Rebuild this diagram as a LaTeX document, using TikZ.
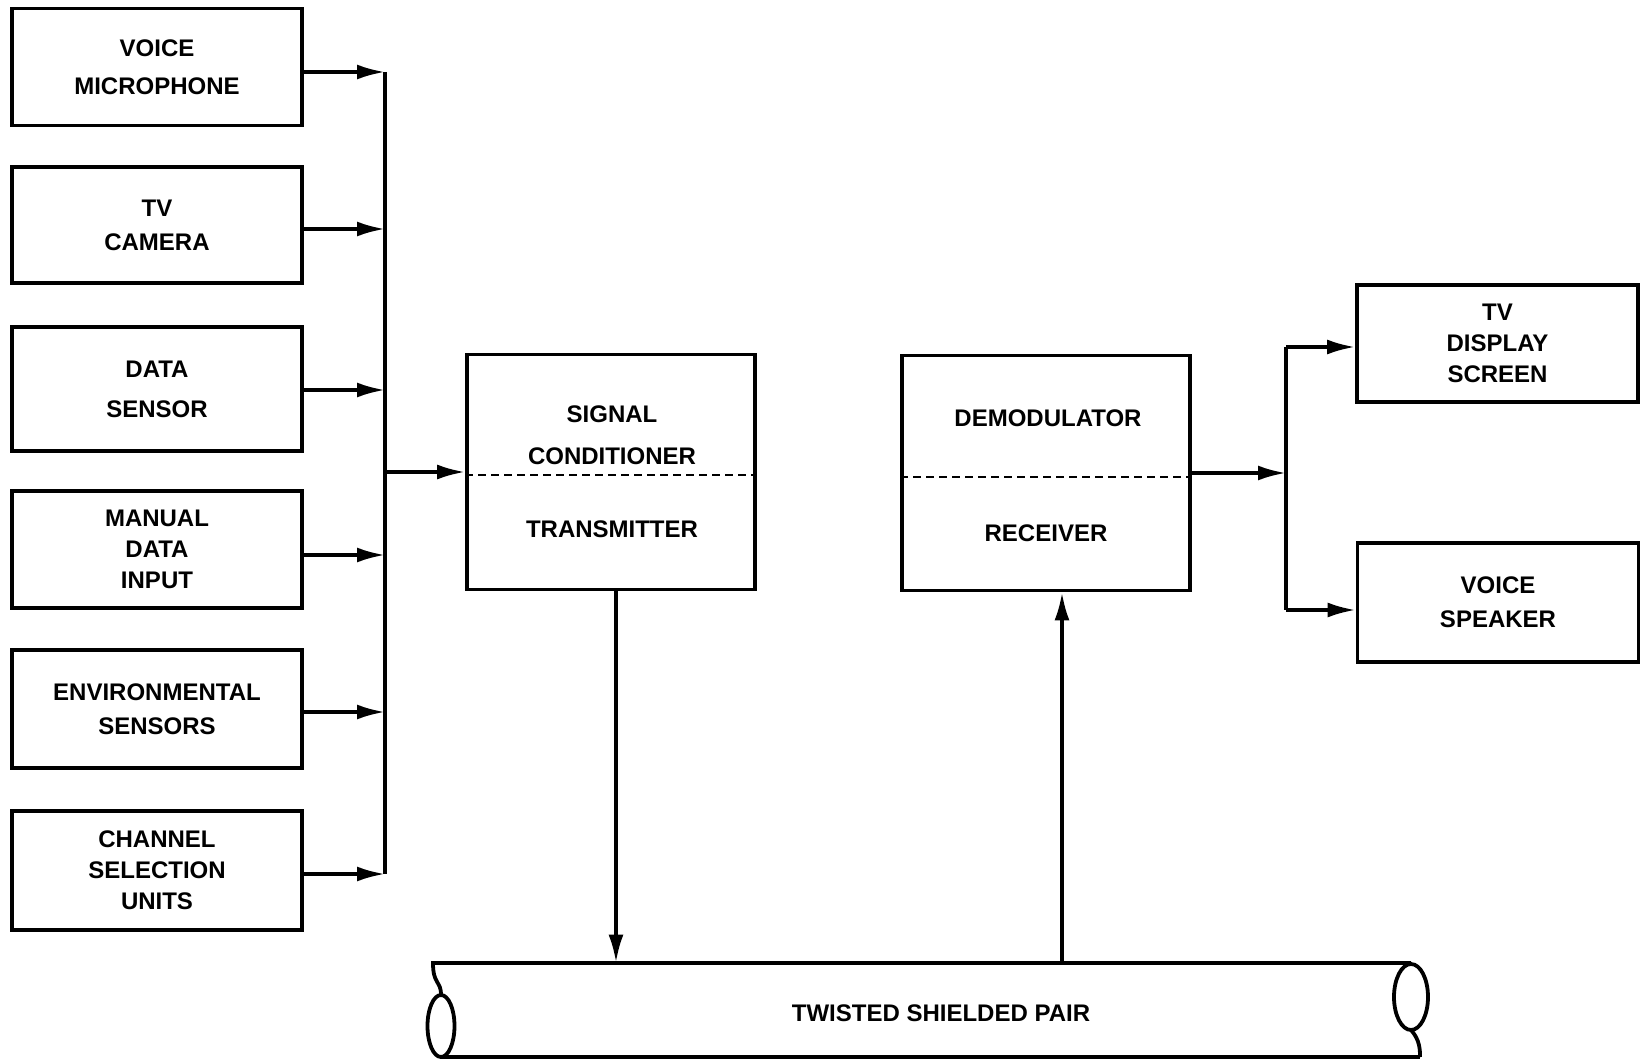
\documentclass[tikz,border=0pt]{standalone}
\usepackage{fontspec}
\setmainfont{Liberation Sans}
\usetikzlibrary{arrows.meta, positioning, calc}

\begin{document}
\begin{tikzpicture}[
		x=0.5pt, y=-0.5pt,
		font=\fontsize{12}{17}\selectfont\bfseries,
		% Style for the blocks
		blk/.style={draw, line width=1.9pt, align=center, inner sep=0pt},
		src/.style={blk, minimum width=145pt},
		sink/.style={blk, minimum width=140.5pt},
		big/.style={blk, minimum width=144pt, minimum height=117.5pt},
		% Connector styles
		arrow/.style={-{Latex[length=14pt, width=7.5pt]}, line width=1.7pt},
		wire/.style={line width=1.7pt},
		split/.style={dash pattern=on 4pt off 2.5pt, line width=1.1pt},
		tube/.style={line width=1.9pt}
		]
		
		\useasboundingbox (0,0) rectangle (1640,1059);
		
		% --- 1. Sources ---
		\node[src, minimum height=58.5pt] (mic) at (157,67) {VOICE\\[2pt]MICROPHONE};
		\node[src, minimum height=58pt] (cam) at (157,225) {TV\\CAMERA};
		\node[src, minimum height=62pt] (dat) at (157,389) {DATA\\[3pt]SENSOR};
		\node[src, minimum height=58.5pt] (man) at (157,549.5) {MANUAL\\[-1.5pt]DATA\\[-1.5pt]INPUT};
		\node[src, minimum height=59pt] (env) at (157,709) {ENVIRONMENTAL\\SENSORS};
		\node[src, minimum height=59.5pt] (chn) at (157,870.5) {CHANNEL\\[-1.5pt]SELECTION\\[-1.5pt]UNITS};
		
		% --- 2. Collecting bus ---
		\foreach \n/\y [count=\i] in {mic/72, cam/229, dat/390, man/555, env/712, chn/874} {
			\coordinate (j\i) at (385,\y);
			\draw[arrow] (\n.east |- j\i) -- (j\i);
		}
		\draw[wire] (j1) -- (j6);
		\coordinate (jin) at (385,472);
		
		% --- 3. Transmitting end ---
		\node[big] (sig) at (611,472) {};
		\node (sigtxt) at (612,414) {SIGNAL};
		\node (contxt) at (612,456) {CONDITIONER};
		\node (trmtxt) at (612,529) {TRANSMITTER};
		\draw[split] (sig.west |- 0,475) -- (sig.east |- 0,475);
		\draw[arrow] (jin) -- (sig.west);
		
		% --- 4. Receiving end ---
		\node[big] (dem) at (1046,473) {};
		\node (demtxt) at (1048,418) {DEMODULATOR};
		\node (rcvtxt) at (1046,533) {RECEIVER};
		\draw[split] (dem.west |- 0,477) -- (dem.east |- 0,477);
		
		% --- 5. Sinks ---
		\node[sink, minimum height=58.5pt] (tvd) at (1497.5,343.5) {TV\\[-1.5pt]DISPLAY\\[-1.5pt]SCREEN};
		\node[sink, minimum height=59.5pt] (spk) at (1498,602.5) {VOICE\\SPEAKER};
		\coordinate (jout) at (1286,473);
		\coordinate (jtop) at (1286,347);
		\coordinate (jbot) at (1286,610);
		\draw[arrow] (dem.east) -- (jout);
		\draw[wire] (jtop) -- (jbot);
		\draw[arrow] (jtop) -- (jtop -| tvd.west);
		\draw[arrow] (jbot) -- (jbot -| spk.west);
		
		% --- 6. The cable ---
		\node[minimum width=494pt, minimum height=47pt, inner sep=0pt] (pipe) at (926,1010) {};
		\node (pipetxt) at (941,1013) {TWISTED SHIELDED PAIR};
		\draw[tube] (441,1057) -- (1420,1057);
		\draw[tube] (441,995) .. controls (441,980) and (433,985) .. (433,963) -- (1411,963);
		\draw[tube] (441,1026) ellipse [x radius=13.5, y radius=31];
		\draw[tube] (1411,997) ellipse [x radius=17, y radius=33];
		\draw[tube] (1411,1030) .. controls (1420,1040) and (1420,1050) .. (1420,1057);
		
		% --- 7. Links to the cable ---
		\draw[arrow] ($(sig.south)+(5,0)$) -- ($(sig.south |- pipe.north)+(5,0)$);
		\draw[arrow] ($(dem.south |- pipe.north)+(16,0)$) -- ($(dem.south)+(16,0)$);
		
	\end{tikzpicture}
\end{document}
